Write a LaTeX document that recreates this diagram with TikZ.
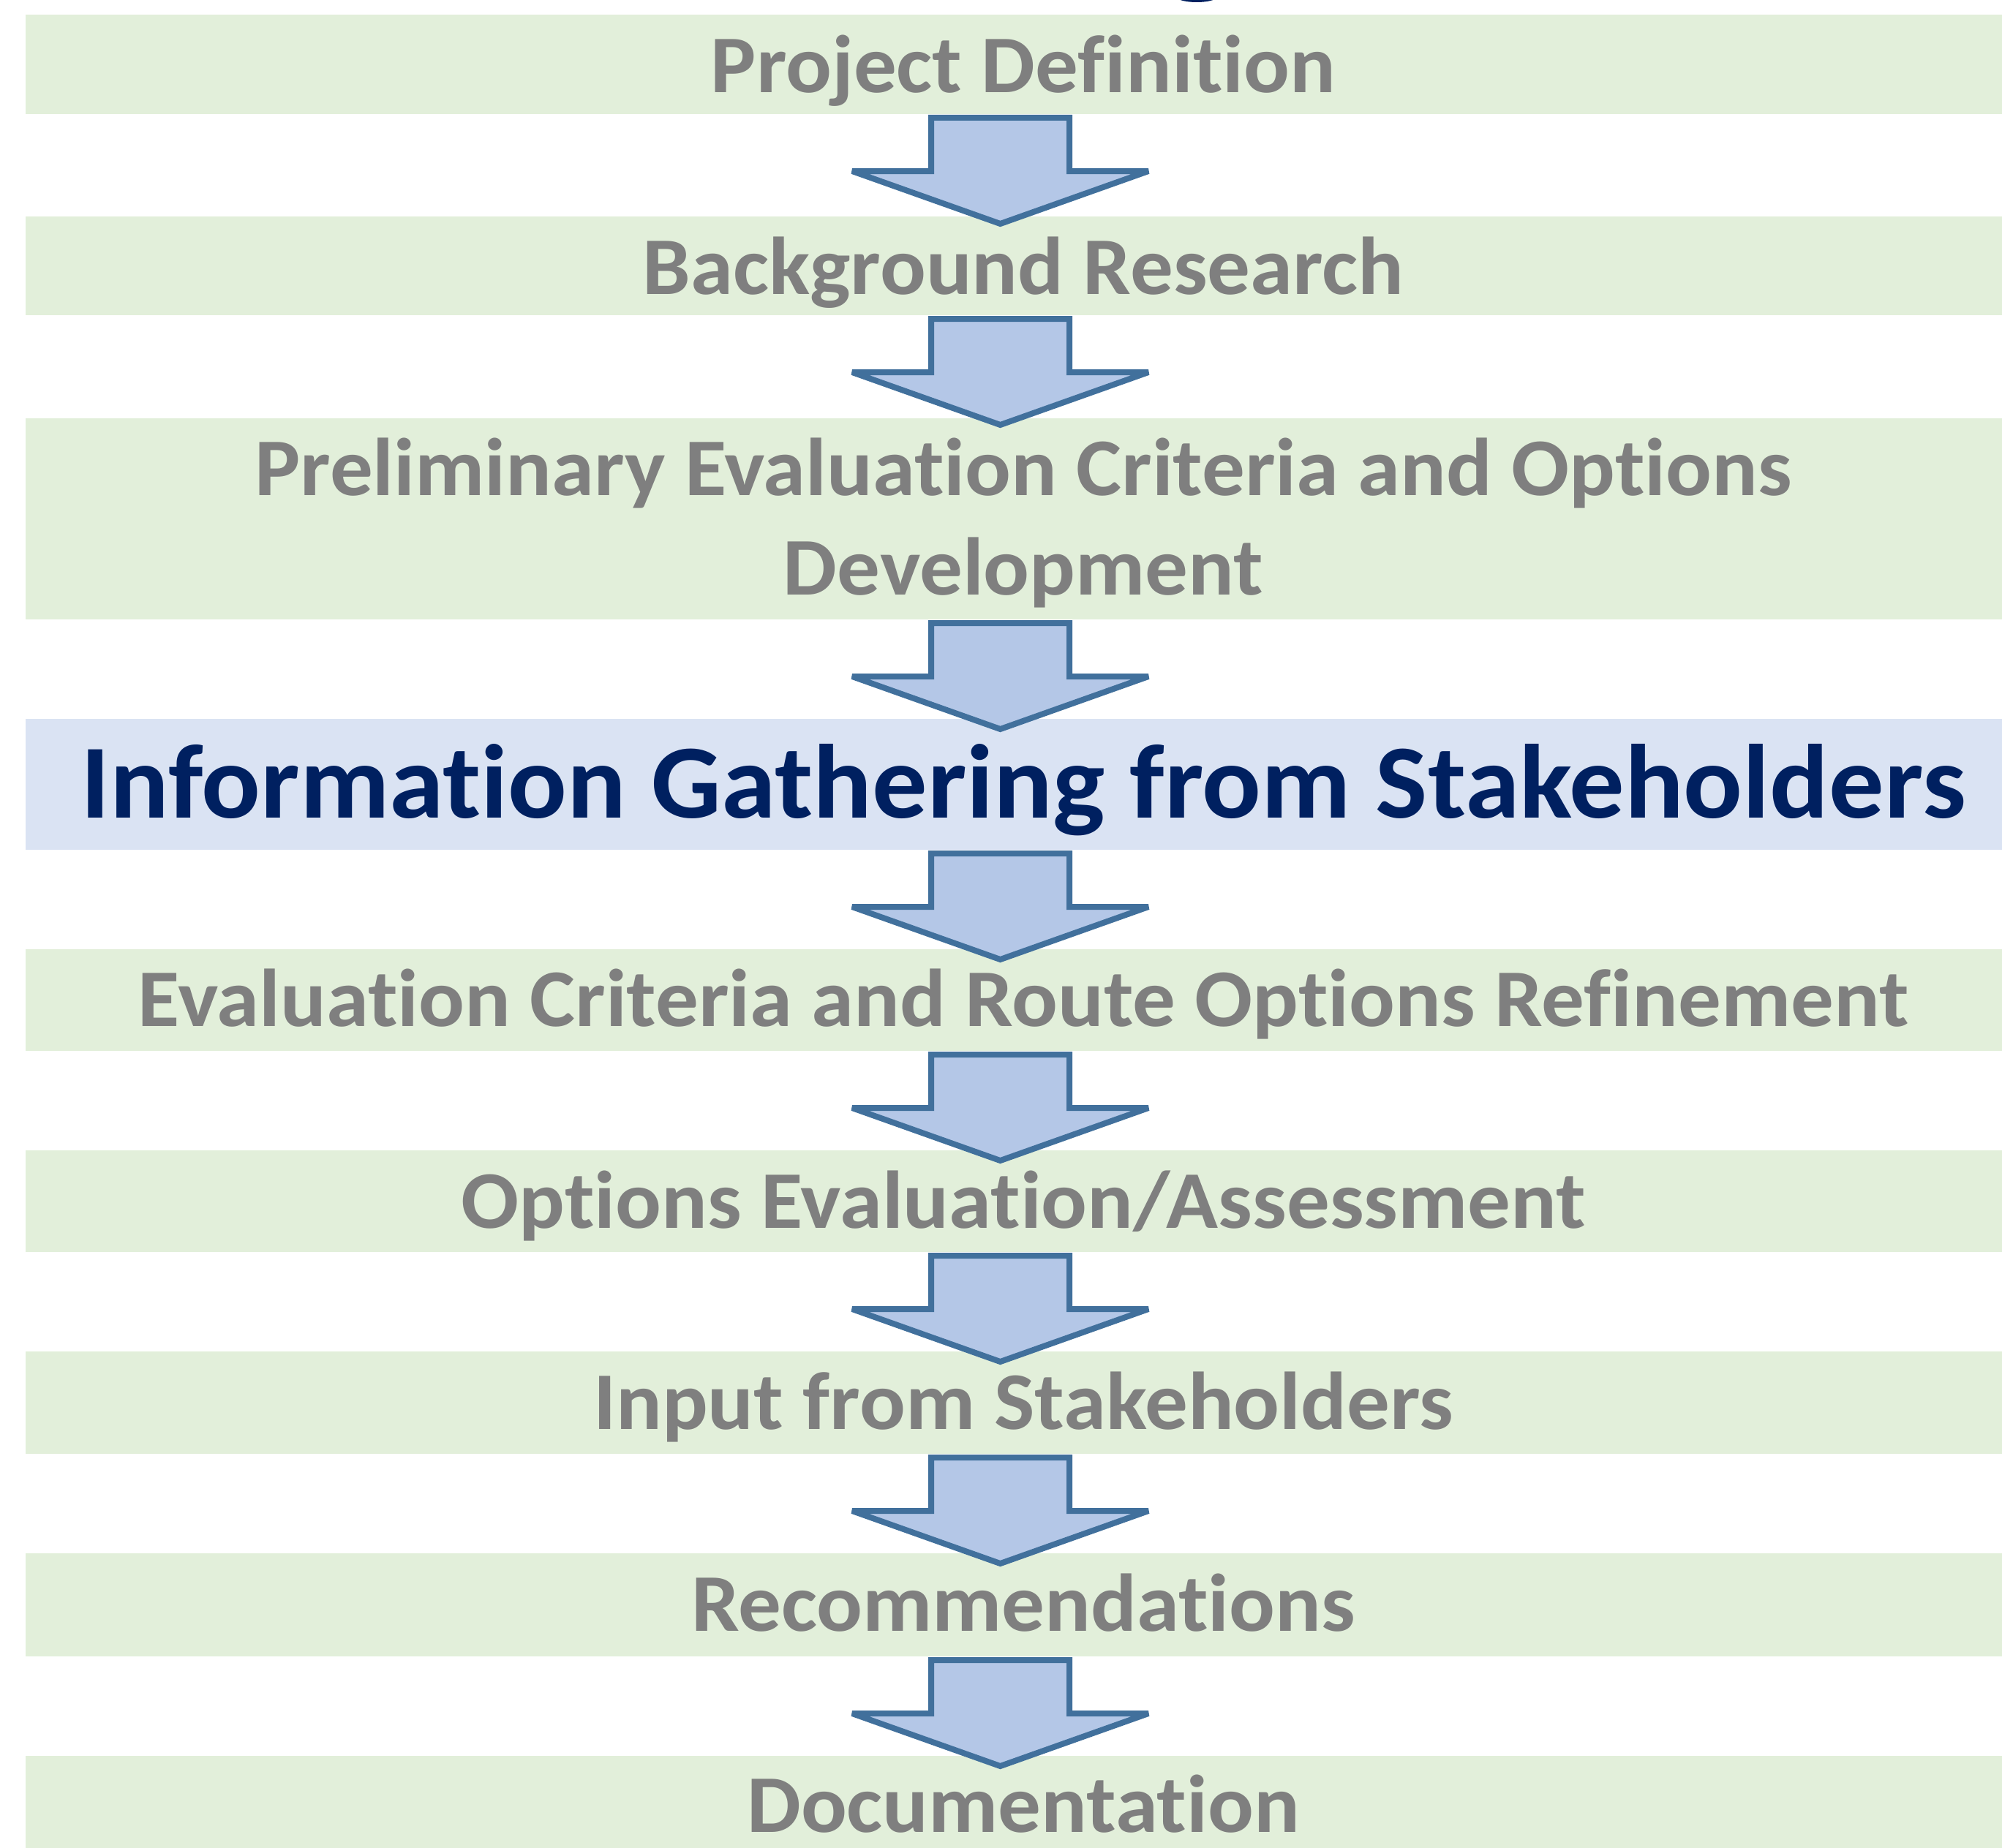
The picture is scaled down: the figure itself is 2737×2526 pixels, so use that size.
\documentclass[tikz,border=0pt]{standalone}
\usepackage{fontspec}
\setmainfont{Carlito}[FakeStretch=1.045, Ligatures=NoCommon]
\usetikzlibrary{calc}
\definecolor{bandgreen}{HTML}{E2EFDA}
\definecolor{bandblue}{HTML}{DAE3F3}
\definecolor{arrowfill}{HTML}{B4C7E7}
\definecolor{arrowline}{HTML}{41709C}
\definecolor{txtgray}{HTML}{7F7F7F}
\definecolor{navyblue}{HTML}{002060}
\newcommand{\blockarrow}[1]{%
  \draw[barrow] ($(#1.south -| ax)+(-94.5,5)$) -- ++(189,0) -- ++(0,73) -- ++(108,0)
    -- ($(#1.south -| ax)+(0,150)$) -- ($(#1.south -| ax)+(-202.5,78)$) -- ++(108,0) -- cycle;}
\begin{document}
\begin{tikzpicture}[x=0.25pt,y=-0.25pt,
  band/.style={fill=bandgreen, draw=none, minimum width=682pt, minimum height=#1, inner sep=0pt, outer sep=0pt},
  bandhi/.style={fill=bandblue, draw=none, minimum width=682pt, minimum height=#1, inner sep=0pt, outer sep=0pt},
  lbl/.style={anchor=base, inner sep=0pt, text depth=0pt, text=txtgray, font=\bfseries\fontsize{28}{34}\selectfont},
  lblhi/.style={anchor=base, inner sep=0pt, text depth=0pt, text=navyblue, font=\bfseries\fontsize{36}{43}\selectfont},
  barrow/.style={fill=arrowfill, draw=arrowline, line width=2pt, line join=miter, miter limit=3}]
\useasboundingbox (0,0) rectangle (2737,2526);
\clip (0,0) rectangle (2737,2526);
\fill[white] (0,0) rectangle (2737,2526);
\coordinate (ax) at (1367.5,0);
% fragment of a cut-off title glyph at the top edge
\fill[navyblue] (1636,-6) ellipse [x radius=30, y radius=9];
% bands
\node[band=34pt]     (b1) at (1399,88) {};
\node[band=33.75pt]  (b2) at (1399,363.5) {};
\node[band=68.75pt]  (b3) at (1399,709.5) {};
\node[bandhi=44.75pt](b4) at (1399,1072.5) {};
\node[band=34.75pt]  (b5) at (1399,1367.5) {};
\node[band=34.75pt]  (b6) at (1399,1642.5) {};
\node[band=35pt]     (b7) at (1399,1918) {};
\node[band=35.25pt]  (b8) at (1399,2194.5) {};
\node[band=35pt]     (b9) at (1399,2471) {};
% labels
\node[lbl] (t1) at ($(b1.north)+(0,107)$) {Project Definition};
\node[lbl] (t2) at ($(b2.north)+(0,106)$) {Background Research};
\node[lbl] (t3a) at ($(b3.north)+(0,105)$) {Preliminary Evaluation Criteria and Options};
\node[lbl] (t3b) at ($(b3.north)+(0,241)$) {Development};
\node[lblhi] (t4) at ($(b4.north)+(0,135)$) {Information Gathering from Stakeholders};
\node[lbl] (t5) at ($(b5.north)+(0,105)$) {Evaluation Criteria and Route Options Refinement};
\node[lbl] (t6) at ($(b6.north)+(0,106)$) {Options Evaluation/Assessment};
\node[lbl] (t7) at ($(b7.north)+(0,106)$) {Input from Stakeholders};
\node[lbl] (t8) at ($(b8.north)+(0,106)$) {Recommendations};
\node[lbl] (t9) at ($(b9.north)+(0,104)$) {Documentation};
% arrows
\blockarrow{b1}
\blockarrow{b2}
\blockarrow{b3}
\blockarrow{b4}
\blockarrow{b5}
\blockarrow{b6}
\blockarrow{b7}
\blockarrow{b8}
\end{tikzpicture}
\end{document}
